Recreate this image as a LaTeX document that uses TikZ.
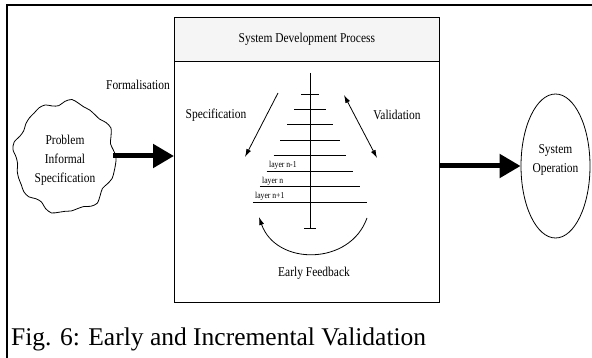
\documentclass[tikz,border=0pt]{standalone}
\usepackage{fontspec}
\setmainfont{Liberation Serif}
\newfontfamily\condserif{Liberation Serif}[FakeStretch=0.85]
\usetikzlibrary{arrows.meta,shapes.geometric}

\tikzset{
  lbl/.style={font=\condserif\fontsize{13.5}{19}\selectfont, inner sep=0pt, align=center},
  layerlbl/.style={font=\condserif\fontsize{9}{10}\selectfont, inner sep=0pt, anchor=south west},
  thin/.style={line width=0.8pt},
  bigarrow/.style={line width=5pt, -{Triangle[length=21pt,width=23pt]}},
  slimtip/.style={line width=0.8pt, -{Latex[length=8pt,width=5pt]}},
  boxpart/.style={draw, line width=0.8pt, inner sep=0pt, anchor=north west},
}

\begin{document}
\begin{tikzpicture}[x=1pt,y=-1pt]
\useasboundingbox (0,0) rectangle (592,358);

% outer frame (top and left edges only)
\draw[line width=2.6pt] (7,358) -- (7,5) -- (592,5);

% development process box with header strip
\node[boxpart, minimum width=265pt, minimum height=285pt] (sdp) at (174,17) {};
\node[boxpart, fill=black!4, minimum width=265pt, minimum height=44pt, lbl] (hdr) at (174,17) {};
\node[lbl] (hdrtext) at (hdr.center) {System Development Process};

% problem cloud (wavy blob)
\draw[line width=0.8pt] plot[smooth cycle, variable=\t, samples=48, domain=0:352.5]
  ({65+50*(1+0.04*sin(8*\t)+0.025*cos(13*\t+30))*cos(\t)},
   {157+55*(1+0.04*sin(8*\t)+0.025*cos(13*\t+30))*sin(\t)});
\node[lbl, minimum width=96pt] (problem) at (65,160) {Problem\\Informal\\Specification};

% system operation ellipse
\node[draw, thin, ellipse, minimum width=69pt, minimum height=144pt, inner sep=0pt] (sysop) at (555.5,166) {};
\node[lbl] (sysoplbl) at (555.5,160) {System\\Operation};

% flow arrows
\draw[bigarrow] ([yshift=4pt]problem.east) -- ([yshift=4pt]problem.east -| sdp.west);
\draw[bigarrow] (sdp.east |- sysop.west) -- (sysop.west);
\node[lbl] (formal) at (138,85) {Formalisation};

% layered structure
\draw[thin] (310,73) -- (310,228);
\draw[thin] (304,228) -- (316,228);
\foreach \i in {0,...,7}
  \draw[thin] ({310-(9+6.86*\i)},{94+15.43*\i}) -- ({310+(9+6.86*\i)},{94+15.43*\i});
\node[layerlbl] (ln1) at (269,170) {layer n-1};
\node[layerlbl] (ln)  at (262,185.5) {layer n};
\node[layerlbl] (ln2) at (255,201) {layer n+1};

% specification and validation arrows
\coordinate (specA) at (278,93);
\coordinate (specB) at (245,157);
\draw[slimtip] (specA) -- (specB);
\node[lbl] (spec) at (216,115) {Specification};

\coordinate (valA) at (344,95);
\coordinate (valB) at (377,158);
\draw[slimtip, {Latex[length=8pt,width=5pt]}-{Latex[length=8pt,width=5pt]}] (valA) -- (valB);
\node[lbl] (valid) at (397,115) {Validation};

% early feedback loop
\coordinate (fbA) at (367,218);
\coordinate (fbB) at (259,217);
\draw[slimtip] (fbA) .. controls (350,266) and (276,266) .. (fbB);
\node[lbl] (feedback) at (314,273) {Early Feedback};

% caption
\node[font=\fontsize{25.5}{28}\selectfont, inner sep=0pt, anchor=base west] (caption) at (11,345)
  {Fig. 6: Early and Incremental Validation};
\end{tikzpicture}
\end{document}
